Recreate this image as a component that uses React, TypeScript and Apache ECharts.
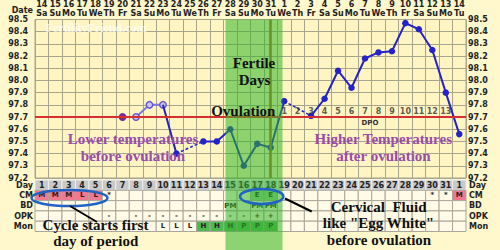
import React, { useEffect, useRef } from 'react';
import * as echarts from 'echarts';

// ---- data ----
const dateNums = ['14','15','16','17','18','19','20','21','22','23','24','25','26','27','28','29','30','31','1','2','3','4','5','6','7','8','9','10','11','12','13','14'];
const weekdays = ['Sa','Su','Mo','Tu','We','Th','Fr','Sa','Su','Mo','Tu','We','Th','Fr','Sa','Su','Mo','Tu','We','Th','Fr','Sa','Su','Mo','Tu','We','Th','Fr','Sa','Su','Mo','Tu'];
const cycleDays = ['1','2','3','4','5','6','7','8','9','10','11','12','13','14','15','16','17','18','19','20','21','22','23','24','25','26','27','28','29','30','31','1'];
const temps: (number | null)[] = [null,null,null,null,null,null,97.70,97.70,97.80,97.80,97.40,null,97.50,97.50,97.60,97.30,97.48,97.45,97.83,null,97.71,97.85,98.08,97.94,98.18,98.23,98.24,98.47,98.42,98.25,97.90,97.56];
const openTempDays = [7, 8, 9, 10];
const firstTempDay = 7;
const dashedGaps = [[11, 13], [19, 21]];
const coverline = 97.7;
const ovulationDay = 18;
const dpoStartDay = 19;
const dpoLabels = ['1','2','3','4','5','6','7','8','9','10','11','12','13'];
const tableRows = ['Day', 'CM', 'BD', 'OPK', 'Mon'];
const cmMarks: [number, string][] = [[1,'M'],[2,'M'],[3,'M'],[4,'L'],[5,'L'],[6,'*'],[17,'E'],[18,'E'],[30,'*'],[31,'*'],[32,'M']];
const bdMarks: [number, string][] = [[15,'PM'],[17,'PM'],[18,'PM']];
const opkMarks: [number, string][] = [[6,'-'],[8,'-'],[9,'-'],[10,'-'],[11,'-'],[12,'-'],[13,'-'],[14,'-'],[15,'-'],[16,'-'],[17,'+'],[18,'+']];
const monMarks: [number, string][] = [[10,'L'],[11,'L'],[12,'L'],[13,'H'],[14,'H'],[15,'H'],[16,'P'],[17,'P'],[18,'P']];

// ---- styling ----
const FONT = '"DejaVu Sans", Verdana, sans-serif';
const SERIF = '"Liberation Serif", "Times New Roman", serif';
const GRIDC = '#a9a58c';
const BLUE = '#2323c8';
const PURPLE = '#9a4caa';

const catKeys = dateNums.map((d, i) => `${d}|${weekdays[i]}`);

const markRows = [null, cmMarks, bdMarks, opkMarks, monMarks];
const tableCells: { v: [number, number]; t: string }[] = [];
tableRows.forEach((_, r) => {
  cycleDays.forEach((d, c) => {
    let t = '';
    if (r === 0) t = d;
    else {
      const m = (markRows[r] as [number, string][]).find((x) => x[0] === c + 1);
      if (m) t = m[1];
    }
    tableCells.push({ v: [c, r], t });
  });
});

function cellFill(r: number, t: string) {
  if (r === 0) return '#c9c9c9';
  if (r === 1 && (t === 'M' || t === 'L')) return '#f07890';
  if (r === 1 && t === 'E') return '#8fd48f';
  if (r === 4 && (t === 'H' || t === 'P')) return '#4fb84f';
  return '#fffbe6';
}

const axisLabelBase = { fontFamily: FONT, fontSize: 8, fontWeight: 'bold' as const, color: '#222' };

function txt(text: string, x: number, y: number, fill = '#111', size = 15, align = 'center', family = SERIF) {
  return {
    type: 'text', z: 30,
    style: { text, x, y, fill, font: `bold ${size}px ${family}`, align, verticalAlign: 'middle', textAlign: align, textVerticalAlign: 'middle' },
  };
}

const option: any = {
  animation: false,
  backgroundColor: '#fff8cc',
  grid: [
    { left: 35, right: 34, top: 19.5, height: 158.5, show: true, backgroundColor: '#fff5c2', borderColor: GRIDC, borderWidth: 1 },
    { left: 35, right: 34, top: 180, height: 51.5, show: false },
  ],
  xAxis: [
    {
      type: 'category', gridIndex: 0, position: 'top', data: catKeys, boundaryGap: true,
      axisLine: { show: false }, axisTick: { show: false },
      splitLine: { show: true, interval: 0, lineStyle: { color: GRIDC, width: 1 } },
      axisLabel: {
        interval: 0, margin: 1,
        formatter: (v: string) => { const [d, w] = v.split('|'); return `{d|${d}}\n{w|${w}}`; },
        rich: { d: { ...axisLabelBase, lineHeight: 9.5 }, w: { ...axisLabelBase, lineHeight: 9.5 } },
      },
    },
    { type: 'category', gridIndex: 1, data: catKeys, show: false },
  ],
  yAxis: [
    {
      type: 'value', gridIndex: 0, min: 97.2, max: 98.5, interval: 0.1, position: 'left',
      axisLine: { show: false }, axisTick: { show: false },
      splitLine: { lineStyle: { color: GRIDC, width: 1 } },
      axisLabel: { ...axisLabelBase, margin: 7, formatter: (v: number) => v.toFixed(1) },
    },
    {
      type: 'value', gridIndex: 0, min: 97.2, max: 98.5, interval: 0.1, position: 'right',
      axisLine: { show: false }, axisTick: { show: false }, splitLine: { show: false },
      axisLabel: { ...axisLabelBase, margin: 2, formatter: (v: number) => v.toFixed(1) },
    },
    {
      type: 'category', gridIndex: 1, data: tableRows, inverse: true, position: 'left',
      axisLine: { show: false }, axisTick: { show: false },
      axisLabel: { ...axisLabelBase, margin: 2, interval: 0 },
    },
    {
      type: 'category', gridIndex: 1, data: tableRows, inverse: true, position: 'right',
      axisLine: { show: false }, axisTick: { show: false },
      axisLabel: { ...axisLabelBase, margin: 3, interval: 0 },
    },
  ],
  series: [
    {
      type: 'custom', xAxisIndex: 1, yAxisIndex: 2, z: 1,
      data: tableCells.map((c) => c.v),
      encode: { x: 0, y: 1 },
      renderItem: (params: any, api: any) => {
        const c = api.value(0), r = api.value(1);
        const cell = tableCells[params.dataIndex];
        const p = api.coord([c, r]);
        const s = api.size([1, 1]);
        return {
          type: 'rect',
          shape: { x: p[0] - s[0] / 2, y: p[1] - s[1] / 2, width: s[0], height: s[1] },
          style: { fill: cellFill(r, cell.t), stroke: r === 0 ? '#eeeeee' : '#aaa69a', lineWidth: 1 },
          textContent: { style: { text: cell.t, fill: '#222', font: `bold ${r === 0 ? 8 : 7}px ${FONT}` } },
          textConfig: { position: 'inside' },
        };
      },
    },
    {
      type: 'line', xAxisIndex: 0, yAxisIndex: 0, z: 3,
      data: temps.map((t, i) => (openTempDays.includes(i + 1) ? t : null)),
      symbol: 'circle', symbolSize: 6.5, showAllSymbol: true,
      lineStyle: { color: '#7f78e0', width: 2 },
      itemStyle: { color: '#cdc6f0', borderColor: '#6a5ad0', borderWidth: 1.5 },
    },
    {
      type: 'line', xAxisIndex: 0, yAxisIndex: 0, z: 3,
      data: temps.map((t, i) => (i + 1 === firstTempDay ? t : null)),
      symbol: 'circle', symbolSize: 6.5, showAllSymbol: true,
      lineStyle: { width: 0 },
      itemStyle: { color: '#7a2a8a', borderColor: '#7a2a8a' },
    },
    ...dashedGaps.map(([a, b]) => ({
      type: 'line', xAxisIndex: 0, yAxisIndex: 0, z: 3,
      data: temps.map((t, i) => (i + 1 === a || i + 1 === b ? t : null)),
      connectNulls: true, symbol: 'none',
      lineStyle: { color: BLUE, width: 1.5, type: [3, 2] },
    })),
    {
      type: 'line', xAxisIndex: 0, yAxisIndex: 0, z: 4,
      data: temps.map((t, i) => {
        if (i + 1 < 10) return null;
        if (i + 1 === 10) return { value: t, symbol: 'none' };
        return t;
      }),
      symbol: 'circle', symbolSize: 6.5, showAllSymbol: true,
      lineStyle: { color: BLUE, width: 2 },
      itemStyle: { color: BLUE },
    },
    {
      type: 'line', xAxisIndex: 0, yAxisIndex: 0, z: 12,
      data: temps.map(() => null),
      markLine: {
        silent: true, symbol: 'none', label: { show: false },
        data: [
          { yAxis: coverline, lineStyle: { color: '#d83030', width: 2, type: 'solid' } },
          { xAxis: ovulationDay - 1, lineStyle: { color: '#a06a28', width: 2.5, type: 'solid' } },
        ],
      },
    },
    {
      type: 'scatter', xAxisIndex: 0, yAxisIndex: 0, z: 12,
      data: dpoLabels.map((_, i) => [dpoStartDay - 1 + i, 97.745]),
      symbolSize: 1, itemStyle: { color: 'transparent' },
      label: { show: true, position: 'inside', formatter: (p: any) => dpoLabels[p.dataIndex], ...axisLabelBase, color: '#333' },
    },
  ],
  graphic: [
    { type: 'rect', z: 8, shape: { x: 225.5, y: 19.5, width: 57, height: 231 }, style: { fill: 'rgba(50,180,40,0.55)' } },
    txt('FertilityFriend.com', 96, 28, 'rgba(255,255,255,0.75)', 12),
    txt('Date', 33, 10, '#222', 8, 'right', FONT),
    txt('DPO', 370, 122.5, '#333', 7, 'center', FONT),
    txt('Fertile', 254, 63),
    txt('Days', 254.5, 79.5),
    txt('Ovulation', 243.3, 111),
    txt('Lower temperatures', 133, 139, PURPLE),
    txt('before ovulation', 133, 155.5, PURPLE),
    txt('Higher Temperatures', 383.3, 139, PURPLE),
    txt('after ovulation', 383.5, 155.5, PURPLE),
    { type: 'ellipse', z: 25, shape: { cx: 69.5, cy: 198, rx: 38, ry: 8 }, style: { fill: 'rgba(0,0,0,0)', stroke: '#1f63c6', lineWidth: 2.5 } },
    { type: 'ellipse', z: 25, shape: { cx: 261.7, cy: 196.5, rx: 21.7, ry: 7.5 }, style: { fill: 'rgba(0,0,0,0)', stroke: '#1f63c6', lineWidth: 2.5 } },
    { type: 'line', z: 25, shape: { x1: 70, y1: 206, x2: 97, y2: 222 }, style: { stroke: '#000', lineWidth: 2 } },
    { type: 'line', z: 25, shape: { x1: 285, y1: 198.5, x2: 311.7, y2: 211.5 }, style: { stroke: '#000', lineWidth: 2 } },
    txt('Cycle starts first', 95.5, 225),
    txt('day of period', 95.8, 240.7),
    txt('Cervical  Fluid', 378.7, 207.3),
    txt('like "Egg White"', 378.5, 222.7),
    txt('before ovulation', 379, 240),
  ],
};

export default function App() {
  const ref = useRef<HTMLDivElement>(null);
  useEffect(() => {
    const chart = echarts.init(ref.current!, null, { renderer: 'svg' });
    chart.setOption(option);
    return () => chart.dispose();
  }, []);
  return <div ref={ref} style={{ position: 'fixed', left: 0, top: 0, width: 500, height: 250 }} />;
}
